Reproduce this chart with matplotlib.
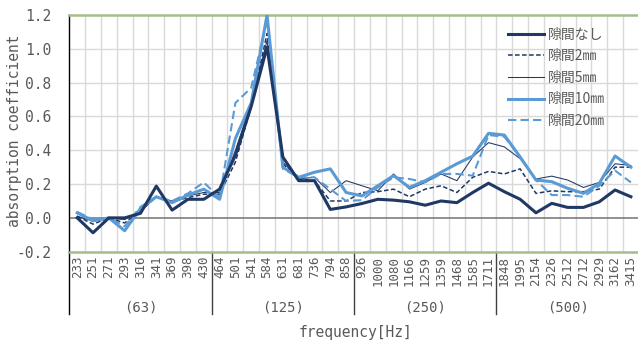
import matplotlib
matplotlib.use("Agg")
import matplotlib.pyplot as plt
import matplotlib.transforms as mtransforms
import numpy as np

# 1/3オクターブ中心周波数 (測定点)
freqs = [
    "233", "251", "271", "293", "316", "341", "369", "398", "430",
    "464", "501", "541", "584", "631", "681", "736", "794", "858",
    "926", "1000", "1080", "1166", "1259", "1359", "1468", "1585", "1711",
    "1848", "1995", "2154", "2326", "2512", "2712", "2929", "3162", "3415",
]
bands = ["(63)", "(125)", "(250)", "(500)"]

gap_none = [
    0.00, -0.088, 0.00, 0.00, 0.027, 0.188, 0.046, 0.11, 0.11,
    0.17, 0.37, 0.66, 1.01, 0.36, 0.22, 0.22, 0.05, 0.065,
    0.085, 0.11, 0.105, 0.095, 0.075, 0.10, 0.09, 0.15, 0.205,
    0.155, 0.11, 0.03, 0.086, 0.062, 0.062, 0.095, 0.165, 0.125,
]
gap_2mm = [
    0.01, -0.037, 0.00, -0.03, 0.04, 0.125, 0.095, 0.12, 0.14,
    0.14, 0.33, 0.66, 1.09, 0.32, 0.23, 0.22, 0.10, 0.10,
    0.15, 0.155, 0.17, 0.125, 0.17, 0.19, 0.15, 0.24, 0.275,
    0.26, 0.29, 0.145, 0.16, 0.155, 0.155, 0.17, 0.30, 0.30,
]
gap_5mm = [
    0.01, -0.02, 0.00, -0.01, 0.04, 0.125, 0.10, 0.13, 0.15,
    0.15, 0.40, 0.68, 1.05, 0.33, 0.23, 0.24, 0.15, 0.22,
    0.19, 0.16, 0.26, 0.17, 0.21, 0.26, 0.22, 0.36, 0.445,
    0.42, 0.35, 0.23, 0.247, 0.224, 0.18, 0.21, 0.32, 0.31,
]
gap_10mm = [
    0.03, -0.017, 0.00, -0.076, 0.056, 0.125, 0.09, 0.135, 0.17,
    0.11, 0.47, 0.68, 1.20, 0.30, 0.24, 0.27, 0.29, 0.15,
    0.13, 0.19, 0.25, 0.18, 0.22, 0.27, 0.32, 0.365, 0.50,
    0.49, 0.36, 0.224, 0.214, 0.175, 0.145, 0.204, 0.366, 0.30,
]
gap_20mm = [
    0.035, -0.01, 0.00, -0.05, 0.065, 0.125, 0.10, 0.145, 0.21,
    0.12, 0.68, 0.77, 1.17, 0.29, 0.24, 0.24, 0.17, 0.10,
    0.105, 0.18, 0.24, 0.23, 0.21, 0.26, 0.26, 0.25, 0.49,
    0.48, 0.36, 0.224, 0.135, 0.135, 0.125, 0.19, 0.28, 0.21,
]

NAVY = "#203864"
BLUE = "#5b9bd5"
GRAY = "#595959"
MONO = "DejaVu Sans Mono"
JP = ["Noto Sans CJK JP", "DejaVu Sans"]

fig = plt.figure(figsize=(6.38, 3.42), dpi=100)
ax = fig.add_axes([69.3 / 638, 90.3 / 342, 569.5 / 638, 236.7 / 342])

x = np.arange(len(freqs))
ax.plot(x, gap_none, color=NAVY, lw=2.2, label="隙間なし", zorder=5)
ax.plot(x, gap_2mm, color=NAVY, lw=1.1, ls=(0, (3, 1.6)), label="隙間2㎜", zorder=4)
ax.plot(x, gap_5mm, color=NAVY, lw=0.75, label="隙間5㎜", zorder=4)
ax.plot(x, gap_10mm, color=BLUE, lw=2.2, label="隙間10㎜", zorder=4)
ax.plot(x, gap_20mm, color=BLUE, lw=1.5, ls=(0, (4, 2)), label="隙間20㎜", zorder=4)

ax.set_xlim(-0.5, len(freqs) - 0.5)
ax.set_ylim(-0.2, 1.2)
ax.set_yticks(np.arange(-0.2, 1.21, 0.2))
ax.set_yticklabels([f"{v:.1f}" for v in np.arange(-0.2, 1.21, 0.2)],
                   family=MONO, color=GRAY, fontsize=10.5)
ax.set_xticks(x)
ax.set_xticklabels(freqs, rotation=90, family=MONO, color=GRAY, fontsize=9)
ax.tick_params(axis="y", length=0, pad=13)
ax.tick_params(axis="x", length=0, pad=3)

# グリッド: 縦線は測定点の間
for b in np.arange(0.5, len(freqs) - 1, 1.0):
    ax.axvline(b, color="#d9d9d9", lw=1, zorder=1)
for v in np.arange(0.2, 1.01, 0.2):
    ax.axhline(v, color="#d9d9d9", lw=1, zorder=1)
ax.axhline(0, color="#737373", lw=1.1, zorder=2)

for side in ["top", "bottom"]:
    ax.spines[side].set_color("#a4bd8c")
    ax.spines[side].set_linewidth(1.8)
ax.spines["right"].set_visible(False)
ax.spines["left"].set_color("black")
ax.spines["left"].set_linewidth(1)

# オクターブバンドの区切りとラベル
trans = mtransforms.blended_transform_factory(ax.transData, ax.transAxes)
for k in range(len(bands) + 1):
    xb = k * 9 - 0.5
    ax.plot([xb, xb], [0, -0.262], color="#404040" if k else "black", lw=1,
            transform=trans, clip_on=False)
for k, name in enumerate(bands):
    ax.text(k * 9 + 4, -0.234, name, transform=trans, ha="center", va="center",
            family=MONO, color=GRAY, fontsize=10)

fig.text(355 / 638, 1 - 332 / 342, "frequency[Hz]", ha="center", va="center",
         family=MONO, color=GRAY, fontsize=10.5)
fig.text(15 / 638, 1 - 131 / 342, "absorption coefficient", rotation=90,
         ha="center", va="center", family=MONO, color=GRAY, fontsize=10.5)

leg = ax.legend(loc="upper left", bbox_to_anchor=(502 / 638, 1 - 22 / 342),
                bbox_transform=fig.transFigure, frameon=False,
                prop={"family": JP, "size": 10}, handlelength=2.6,
                handletextpad=0.3, labelspacing=0.55, borderaxespad=0)
for t in leg.get_texts():
    t.set_color(GRAY)

fig.savefig("out.png", dpi=100)
